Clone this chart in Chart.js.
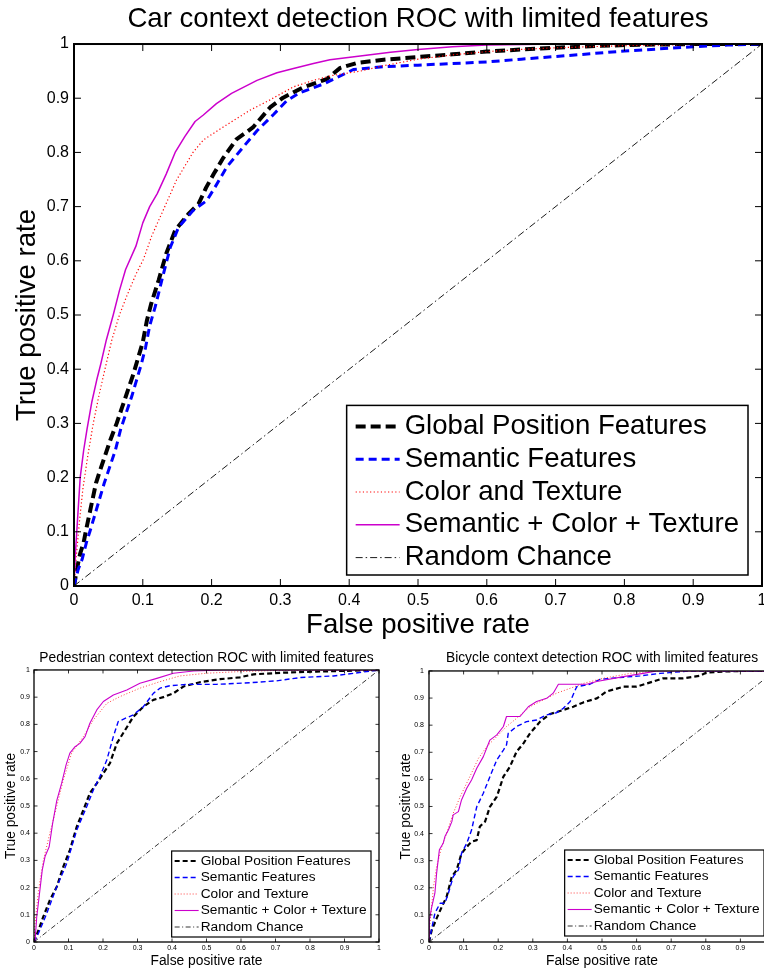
<!DOCTYPE html>
<html>
<head>
<meta charset="utf-8">
<script src="https://cdn.jsdelivr.net/npm/chart.js@4.4.1/dist/chart.umd.min.js"></script>
<style>
  html, body { margin: 0; padding: 0; background: #fff; }
  body { width: 764px; height: 970px; overflow: hidden; position: relative; }
  canvas { position: absolute; }
  #car { left: 0; top: 0; }
  #ped { left: 0; top: 640px; }
  #bike { left: 390px; top: 640px; }
</style>
</head>
<body>
<canvas id="car" width="780" height="644"></canvas>
<canvas id="ped" width="400" height="330"></canvas>
<canvas id="bike" width="410" height="330"></canvas>
<script>
// ---- axis ticks -------------------------------------------------------
const rateTicks = [0, 0.1, 0.2, 0.3, 0.4, 0.5, 0.6, 0.7, 0.8, 0.9, 1];
const rateTickLabels = ['0', '0.1', '0.2', '0.3', '0.4', '0.5', '0.6', '0.7', '0.8', '0.9', '1'];

// ---- series names (legend order) -------------------------------------
const seriesNames = [
  'Global Position Features',
  'Semantic Features',
  'Color and Texture',
  'Semantic + Color + Texture',
  'Random Chance'
];

// ---- ROC points: [false positive rate, true positive rate] -----------
const chanceLine = [[0, 0], [1, 1]];

// Car
const carGlobal = [[0,0],[0.004,0.03],[0.009,0.06],[0.014,0.08],[0.017,0.1],[0.022,0.13],[0.027,0.16],[0.032,0.19],[0.037,0.21],[0.045,0.24],[0.053,0.27],[0.062,0.3],[0.07,0.33],[0.078,0.36],[0.086,0.39],[0.093,0.42],[0.1,0.45],[0.106,0.49],[0.112,0.52],[0.123,0.564],[0.134,0.613],[0.147,0.656],[0.166,0.686],[0.181,0.705],[0.192,0.735],[0.203,0.76],[0.217,0.79],[0.236,0.824],[0.26,0.846],[0.285,0.883],[0.304,0.901],[0.333,0.92],[0.367,0.935],[0.387,0.956],[0.411,0.965],[0.45,0.971],[0.5,0.976],[0.55,0.981],[0.6,0.986],[0.65,0.99],[0.7,0.993],[0.75,0.996],[0.8,0.998],[0.9,1],[1,1]];
const carSemantic = [[0,0],[0.006,0.03],[0.012,0.05],[0.018,0.08],[0.023,0.1],[0.03,0.13],[0.037,0.16],[0.044,0.19],[0.052,0.22],[0.06,0.25],[0.068,0.29],[0.076,0.32],[0.084,0.35],[0.091,0.38],[0.098,0.41],[0.104,0.44],[0.11,0.48],[0.118,0.515],[0.13,0.576],[0.14,0.625],[0.152,0.662],[0.173,0.693],[0.193,0.711],[0.205,0.736],[0.222,0.773],[0.246,0.81],[0.266,0.84],[0.29,0.87],[0.309,0.895],[0.328,0.91],[0.362,0.926],[0.387,0.941],[0.406,0.953],[0.45,0.958],[0.5,0.961],[0.55,0.964],[0.6,0.967],[0.65,0.972],[0.7,0.977],[0.75,0.982],[0.8,0.987],[0.85,0.991],[0.9,0.995],[0.95,0.998],[1,1]];
const carColorTexture = [[0,0],[0.003,0.05],[0.008,0.12],[0.013,0.18],[0.02,0.24],[0.028,0.3],[0.036,0.35],[0.045,0.4],[0.055,0.454],[0.066,0.5],[0.077,0.536],[0.09,0.575],[0.101,0.603],[0.113,0.646],[0.132,0.7],[0.149,0.749],[0.173,0.8],[0.188,0.823],[0.217,0.847],[0.256,0.878],[0.285,0.897],[0.319,0.921],[0.348,0.933],[0.376,0.942],[0.416,0.95],[0.45,0.96],[0.5,0.972],[0.55,0.98],[0.6,0.986],[0.65,0.99],[0.7,0.993],[0.8,0.997],[0.9,0.999],[1,1]];
const carCombined = [[0,0],[0.002,0.06],[0.005,0.12],[0.009,0.2],[0.014,0.25],[0.019,0.29],[0.026,0.34],[0.033,0.38],[0.039,0.41],[0.047,0.454],[0.057,0.5],[0.066,0.545],[0.075,0.584],[0.09,0.627],[0.1,0.67],[0.11,0.7],[0.121,0.724],[0.134,0.76],[0.147,0.8],[0.161,0.829],[0.176,0.857],[0.188,0.869],[0.207,0.89],[0.229,0.909],[0.266,0.933],[0.295,0.947],[0.319,0.955],[0.348,0.964],[0.372,0.971],[0.416,0.978],[0.46,0.985],[0.5,0.99],[0.55,0.995],[0.6,0.998],[0.7,1],[1,1]];

// Pedestrian
const pedGlobal = [[0,0],[0.013,0.044],[0.027,0.093],[0.046,0.154],[0.066,0.203],[0.085,0.277],[0.104,0.338],[0.124,0.424],[0.143,0.485],[0.162,0.547],[0.182,0.583],[0.201,0.62],[0.22,0.657],[0.24,0.73],[0.264,0.779],[0.288,0.828],[0.317,0.865],[0.346,0.89],[0.375,0.9],[0.404,0.914],[0.433,0.939],[0.481,0.955],[0.539,0.966],[0.597,0.973],[0.636,0.984],[0.723,0.99],[0.819,0.994],[1,1]];
const pedSemantic = [[0,0],[0.013,0.032],[0.037,0.105],[0.066,0.203],[0.095,0.289],[0.124,0.412],[0.153,0.498],[0.172,0.559],[0.191,0.608],[0.211,0.669],[0.23,0.755],[0.244,0.81],[0.264,0.822],[0.288,0.835],[0.317,0.865],[0.346,0.914],[0.365,0.933],[0.394,0.942],[0.443,0.947],[0.529,0.947],[0.626,0.953],[0.703,0.96],[0.771,0.972],[0.868,0.978],[1,1]];
const pedColorTexture = [[0,0],[0.003,0.069],[0.013,0.19],[0.027,0.3],[0.046,0.4],[0.066,0.5],[0.085,0.596],[0.109,0.694],[0.143,0.755],[0.172,0.816],[0.211,0.877],[0.249,0.902],[0.307,0.933],[0.365,0.957],[0.423,0.978],[0.5,0.988],[0.597,0.994],[0.7,0.998],[1,1]];
const pedCombined = [[0,0],[0.003,0.004],[0.008,0.093],[0.017,0.19],[0.024,0.265],[0.032,0.314],[0.044,0.35],[0.054,0.436],[0.066,0.52],[0.08,0.583],[0.093,0.651],[0.104,0.694],[0.119,0.718],[0.133,0.73],[0.148,0.755],[0.162,0.804],[0.182,0.853],[0.201,0.884],[0.23,0.908],[0.269,0.926],[0.307,0.951],[0.356,0.969],[0.404,0.988],[0.462,0.996],[0.55,1],[1,1]];

// Bicycle
const bikeGlobal = [[0,0],[0.008,0.044],[0.022,0.087],[0.037,0.13],[0.051,0.167],[0.066,0.241],[0.08,0.266],[0.094,0.327],[0.114,0.358],[0.123,0.37],[0.138,0.376],[0.147,0.426],[0.162,0.444],[0.176,0.499],[0.196,0.536],[0.215,0.61],[0.234,0.647],[0.253,0.702],[0.273,0.733],[0.292,0.77],[0.321,0.813],[0.35,0.841],[0.388,0.856],[0.417,0.868],[0.446,0.884],[0.485,0.899],[0.513,0.924],[0.562,0.942],[0.6,0.942],[0.648,0.961],[0.677,0.973],[0.735,0.973],[0.783,0.982],[0.802,0.994],[0.851,0.998],[0.908,1],[1,1]];
const bikeSemantic = [[0,0],[0.005,0.032],[0.017,0.106],[0.032,0.143],[0.046,0.143],[0.056,0.18],[0.07,0.241],[0.085,0.266],[0.094,0.327],[0.109,0.364],[0.123,0.413],[0.138,0.499],[0.157,0.549],[0.176,0.61],[0.196,0.672],[0.215,0.708],[0.224,0.727],[0.229,0.77],[0.253,0.795],[0.282,0.813],[0.311,0.819],[0.34,0.838],[0.369,0.846],[0.388,0.862],[0.408,0.887],[0.427,0.942],[0.465,0.951],[0.494,0.969],[0.562,0.977],[0.61,0.982],[0.668,0.991],[0.754,1],[1,1]];
const bikeColorTexture = [[0,0],[0.001,0.044],[0.013,0.204],[0.022,0.278],[0.037,0.352],[0.051,0.401],[0.07,0.475],[0.09,0.536],[0.118,0.61],[0.143,0.678],[0.167,0.721],[0.196,0.758],[0.224,0.795],[0.253,0.825],[0.292,0.868],[0.33,0.893],[0.369,0.918],[0.408,0.936],[0.446,0.954],[0.504,0.973],[0.581,0.991],[0.658,1],[1,1]];
const bikeCombined = [[0,0],[0.001,0.081],[0.008,0.13],[0.017,0.18],[0.022,0.253],[0.03,0.34],[0.041,0.364],[0.046,0.389],[0.056,0.413],[0.066,0.444],[0.07,0.469],[0.085,0.481],[0.094,0.524],[0.109,0.567],[0.123,0.598],[0.138,0.641],[0.157,0.684],[0.176,0.745],[0.196,0.764],[0.215,0.795],[0.224,0.832],[0.263,0.832],[0.287,0.868],[0.311,0.887],[0.34,0.899],[0.359,0.918],[0.374,0.951],[0.456,0.951],[0.485,0.961],[0.562,0.979],[0.619,0.991],[0.658,1],[1,1]];

// ---- line styles per series --------------------------------------------
const largeStyles = [
  { color: '#000000', width: 4,   dash: [10, 5] },
  { color: '#0000ff', width: 3,   dash: [8, 5] },
  { color: '#ff0000', width: 1.2, dash: [1.2, 2.4] },
  { color: '#cc00cc', width: 1.5, dash: [] },
  { color: '#000000', width: 0.9, dash: [7, 3, 1.5, 3] }
];
const smallStyles = [
  { color: '#000000', width: 2.2, dash: [5, 3] },
  { color: '#0000ff', width: 1.4, dash: [5, 3] },
  { color: '#ff4040', width: 1,   dash: [1, 2] },
  { color: '#cc00cc', width: 1.1, dash: [] },
  { color: '#000000', width: 0.8, dash: [5, 2.5, 1, 2.5] }
];

const FONT = "'Liberation Sans', Arial, Helvetica, sans-serif";
Chart.defaults.font.family = FONT;
Chart.defaults.color = '#000';

// Box around the plot area with inward tick marks on all four sides
const axisFrame = {
  id: 'axisFrame',
  afterDatasetsDraw(chart, args, o) {
    const { ctx, chartArea: a, scales: { x, y } } = chart;
    ctx.save();
    ctx.setLineDash([]);
    ctx.strokeStyle = '#000';
    ctx.lineWidth = o.tickWidth;
    ctx.beginPath();
    for (const t of x.ticks) {
      const p = x.getPixelForValue(t.value);
      ctx.moveTo(p, a.bottom); ctx.lineTo(p, a.bottom - o.tick);
      ctx.moveTo(p, a.top); ctx.lineTo(p, a.top + o.tick);
    }
    for (const t of y.ticks) {
      const p = y.getPixelForValue(t.value);
      ctx.moveTo(a.left, p); ctx.lineTo(a.left + o.tick, p);
      ctx.moveTo(a.right, p); ctx.lineTo(a.right - o.tick, p);
    }
    ctx.stroke();
    ctx.lineWidth = o.frame;
    ctx.strokeRect(a.left, a.top, a.right - a.left, a.bottom - a.top);
    ctx.restore();
  }
};

// Framed legend anchored to the lower-right corner of the plot area
const boxedLegend = {
  id: 'boxedLegend',
  afterDraw(chart, args, o) {
    const { ctx, chartArea: a } = chart;
    const sets = chart.data.datasets;
    ctx.save();
    ctx.font = o.fontSize + 'px ' + FONT;
    const textW = Math.max(...sets.map(d => ctx.measureText(d.label).width));
    const w = o.padLeft + o.sample + o.gap + textW + o.padRight;
    const h = o.padTop + sets.length * o.row + o.padBottom;
    const right = a.right - o.marginRight;
    const bottom = a.bottom - o.marginBottom;
    const left = right - w, top = bottom - h;
    ctx.fillStyle = '#fff';
    ctx.fillRect(left, top, w, h);
    ctx.setLineDash([]);
    ctx.strokeStyle = '#000';
    ctx.lineWidth = o.border;
    ctx.strokeRect(left, top, w, h);
    sets.forEach((d, i) => {
      const cy = top + o.padTop + o.row * (i + 0.5);
      ctx.beginPath();
      ctx.setLineDash(d.borderDash || []);
      ctx.lineWidth = d.borderWidth;
      ctx.strokeStyle = d.borderColor;
      ctx.moveTo(left + o.padLeft, cy);
      ctx.lineTo(left + o.padLeft + o.sample, cy);
      ctx.stroke();
      ctx.fillStyle = '#000';
      ctx.textAlign = 'left';
      ctx.textBaseline = 'middle';
      ctx.fillText(d.label, left + o.padLeft + o.sample + o.gap, cy + o.textShift);
    });
    ctx.restore();
  }
};

function rocChart(id, cfg) {
  const datasets = cfg.series.map((pts, i) => ({
    label: seriesNames[i],
    data: pts.map(([x, y]) => ({ x, y })),
    showLine: true,
    pointRadius: 0,
    pointHoverRadius: 0,
    borderColor: cfg.styles[i].color,
    backgroundColor: cfg.styles[i].color,
    borderWidth: cfg.styles[i].width,
    borderDash: cfg.styles[i].dash,
    borderCapStyle: 'butt',
    borderJoinStyle: 'round',
    tension: 0,
    fill: false,
    order: cfg.series.length - i
  }));
  const axis = (isX) => ({
    type: 'linear',
    min: 0,
    max: 1,
    afterBuildTicks: s => { s.ticks = rateTicks.map(v => ({ value: v })); },
    afterFit: s => { if (isX) s.height = cfg.xHeight; else s.width = cfg.yWidth; },
    grid: { display: false, drawTicks: false },
    border: { display: false },
    ticks: {
      autoSkip: false,
      maxRotation: 0,
      padding: isX ? cfg.xTickPad : cfg.yTickPad,
      color: '#000',
      font: { size: cfg.tickSize, lineHeight: 1.2 },
      callback: (v, i) => rateTickLabels[i]
    },
    title: {
      display: true,
      text: isX ? 'False positive rate' : 'True positive rate',
      color: '#000',
      font: { size: cfg.labelSize, lineHeight: 1.2 },
      padding: isX ? { top: 0, bottom: cfg.xTitlePad } : { top: cfg.yTitlePad, bottom: 0 }
    }
  });
  return new Chart(document.getElementById(id), {
    type: 'scatter',
    data: { datasets },
    options: {
      responsive: false,
      animation: false,
      events: [],
      layout: { padding: { left: 0, top: 0, right: cfg.padRight, bottom: 0 } },
      plugins: {
        legend: { display: false },
        tooltip: { enabled: false },
        title: {
          display: true,
          text: cfg.title,
          fullSize: false,
          color: '#000',
          font: { size: cfg.titleSize, weight: 'normal', lineHeight: 1.2 },
          padding: cfg.titlePad
        },
        axisFrame: cfg.frame,
        boxedLegend: cfg.legend
      },
      scales: { x: axis(true), y: axis(false) }
    },
    plugins: [axisFrame, boxedLegend]
  });
}

rocChart('car', {
  title: 'Car context detection ROC with limited features',
  series: [carGlobal, carSemantic, carColorTexture, carCombined, chanceLine],
  styles: largeStyles,
  titleSize: 27.6, titlePad: { top: 2.4, bottom: 8.5 },
  labelSize: 27.6, tickSize: 16,
  padRight: 18, yWidth: 74, xHeight: 58,
  xTickPad: 5, yTickPad: 5, xTitlePad: 2.5, yTitlePad: 10.4,
  frame: { frame: 2, tick: 7, tickWidth: 1 },
  legend: { fontSize: 27.6, row: 32.8, padTop: 4.6, padBottom: 1, padLeft: 9, sample: 44, gap: 5, padRight: 9,
            marginRight: 14, marginBottom: 11, border: 1.5, textShift: 0 }
});

rocChart('ped', {
  title: 'Pedestrian context detection ROC with limited features',
  series: [pedGlobal, pedSemantic, pedColorTexture, pedCombined, chanceLine],
  styles: smallStyles,
  titleSize: 13.8, titlePad: { top: 9.7, bottom: 3.7 },
  labelSize: 13.8, tickSize: 7,
  padRight: 21, yWidth: 34, xHeight: 28,
  xTickPad: 1.8, yTickPad: 4, xTitlePad: 0.7, yTitlePad: 2.7,
  frame: { frame: 1.3, tick: 3.5, tickWidth: 0.8 },
  legend: { fontSize: 13.7, row: 16.5, padTop: 1.75, padBottom: 1.75, padLeft: 3, sample: 24, gap: 2, padRight: 4.5,
            marginRight: 8, marginBottom: 5, border: 1.2, textShift: 0 }
});

rocChart('bike', {
  title: 'Bicycle context detection ROC with limited features',
  series: [bikeGlobal, bikeSemantic, bikeColorTexture, bikeCombined, chanceLine],
  styles: smallStyles,
  titleSize: 13.8, titlePad: { top: 9.7, bottom: 4.7 },
  labelSize: 13.8, tickSize: 7,
  padRight: 25, yWidth: 39, xHeight: 28,
  xTickPad: 1.8, yTickPad: 5, xTitlePad: 0.7, yTitlePad: 7.7,
  frame: { frame: 1.3, tick: 3.5, tickWidth: 0.8 },
  legend: { fontSize: 13.7, row: 16.5, padTop: 1.75, padBottom: 1.75, padLeft: 3, sample: 24, gap: 2, padRight: 4.5,
            marginRight: 11, marginBottom: 6, border: 1.2, textShift: 0 }
});
</script>
</body>
</html>
